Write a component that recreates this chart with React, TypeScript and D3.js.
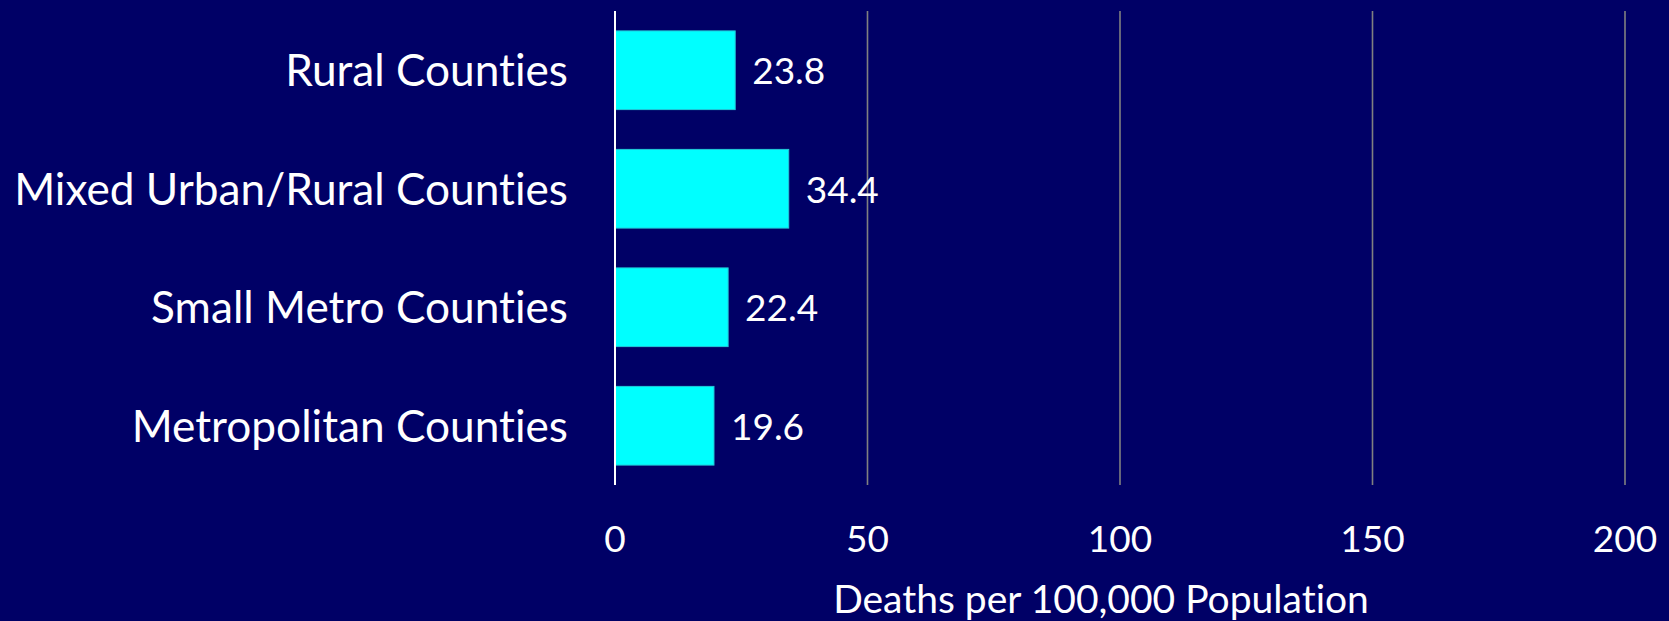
import React from "react";
import * as d3 from "d3";

const categories = ["Rural Counties", "Mixed Urban/Rural Counties", "Small Metro Counties", "Metropolitan Counties"];
const values = [23.8, 34.4, 22.4, 19.6];
const ticks = [0, 50, 100, 150, 200];
const axisTitle = "Deaths per 100,000 Population";

const W = 1669;
const H = 621;
const FONT = "Lato, 'Open Sans', sans-serif";
const textStyle: React.CSSProperties = { fontVariantLigatures: "none" };

export default function App() {
  const x = d3.scaleLinear().domain([0, 200]).range([615, 1625]);
  const y = d3.scaleBand<string>().domain(categories).range([11, 485]).paddingInner(0.336).paddingOuter(0.168);
  return (
    <div style={{ position: "fixed", left: 0, top: 0, width: W, height: H }}>
      <svg width={W} height={H} style={{ display: "block" }}>
        <rect x={0} y={0} width={W} height={H} fill="#000066" />
        {ticks.filter((t) => t !== 0).map((t) => (
          <line key={t} x1={x(t)} x2={x(t)} y1={11} y2={485} stroke="#808080" strokeWidth={1.6} />
        ))}
        {categories.map((c, i) => (
          <g key={c}>
            <rect
              x={x(0)}
              y={y(c)}
              width={x(values[i]) - x(0)}
              height={y.bandwidth()}
              fill="#00FFFF"
              stroke="#22C8D8"
              strokeWidth={1}
            />
            <text
              x={x(values[i]) + 17}
              y={(y(c) as number) + y.bandwidth() / 2 + 14}
              fill="#FFFFFF"
              fontFamily={FONT}
              fontSize={37}
              style={textStyle}
            >
              {values[i].toFixed(1)}
            </text>
            <text
              x={568}
              y={(y(c) as number) + y.bandwidth() / 2 + 16}
              fill="#FFFFFF"
              fontFamily={FONT}
              fontSize={44.2}
              textAnchor="end"
              style={textStyle}
            >
              {c}
            </text>
          </g>
        ))}
        <line x1={x(0)} x2={x(0)} y1={11} y2={485} stroke="#FFFFFF" strokeWidth={2} />
        {ticks.map((t) => (
          <text key={t} x={x(t)} y={552} fill="#FFFFFF" fontFamily={FONT} fontSize={37} textAnchor="middle" style={textStyle}>
            {t}
          </text>
        ))}
        <text x={1101} y={613} fill="#FFFFFF" fontFamily={FONT} fontSize={39} textAnchor="middle" style={textStyle}>
          {axisTitle}
        </text>
      </svg>
    </div>
  );
}
